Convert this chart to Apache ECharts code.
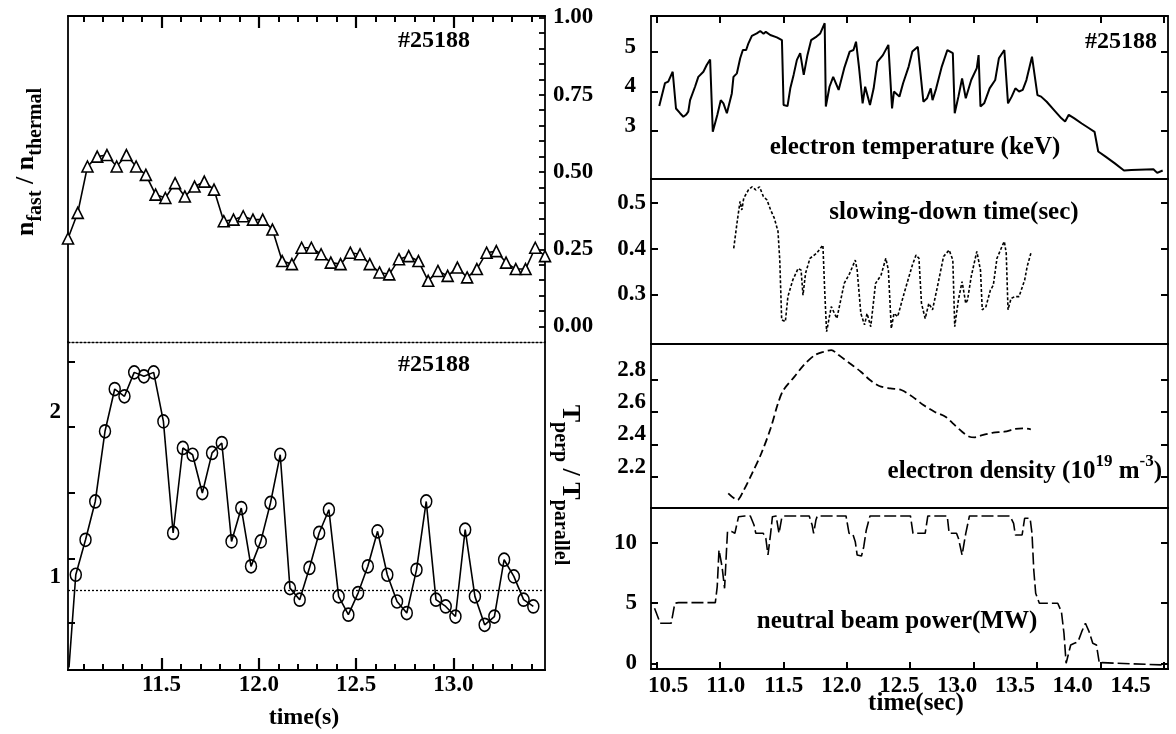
<!DOCTYPE html>
<html>
<head>
<meta charset="utf-8">
<script src="https://cdn.jsdelivr.net/npm/echarts@6/dist/echarts.min.js"></script>
<style>
  html, body { margin: 0; padding: 0; background: #fff; }
  #chart { width: 1176px; height: 734px; }
</style>
</head>
<body>
<div id="chart"></div>
<script>
// ---- left panel: n_fast/n_thermal (triangles) and T_perp/T_parallel (circles)
const ratioTime = [11.02, 11.07, 11.12, 11.17, 11.22, 11.27, 11.32, 11.37, 11.42, 11.47,
  11.52, 11.57, 11.62, 11.67, 11.72, 11.77, 11.82, 11.87, 11.92, 11.97,
  12.02, 12.07, 12.12, 12.17, 12.22, 12.27, 12.32, 12.37, 12.42, 12.47,
  12.52, 12.57, 12.62, 12.67, 12.72, 12.77, 12.82, 12.87, 12.92, 12.97,
  13.02, 13.07, 13.12, 13.17, 13.22, 13.27, 13.32, 13.37, 13.42, 13.47];
const ratioValue = [0.285, 0.368, 0.518, 0.550, 0.555, 0.518, 0.555, 0.518, 0.491, 0.427,
  0.416, 0.464, 0.421, 0.453, 0.469, 0.443, 0.341, 0.346, 0.357, 0.346,
  0.346, 0.314, 0.212, 0.202, 0.255, 0.255, 0.234, 0.207, 0.202, 0.239,
  0.234, 0.202, 0.175, 0.169, 0.218, 0.228, 0.212, 0.148, 0.180, 0.164,
  0.191, 0.159, 0.186, 0.239, 0.244, 0.207, 0.186, 0.186, 0.255, 0.228];

const anisoTime = [11.06, 11.11, 11.16, 11.21, 11.26, 11.31, 11.36, 11.41, 11.46, 11.51,
  11.56, 11.61, 11.66, 11.71, 11.76, 11.81, 11.86, 11.91, 11.96, 12.01,
  12.06, 12.11, 12.16, 12.21, 12.26, 12.31, 12.36, 12.41, 12.46, 12.51,
  12.56, 12.61, 12.66, 12.71, 12.76, 12.81, 12.86, 12.91, 12.96, 13.01,
  13.06, 13.11, 13.16, 13.21, 13.26, 13.31, 13.36, 13.41];
const anisoValue = [1.012, 1.224, 1.456, 1.881, 2.137, 2.093, 2.238, 2.214, 2.238, 1.941,
  1.265, 1.780, 1.739, 1.507, 1.750, 1.810, 1.214, 1.416, 1.063, 1.214,
  1.447, 1.739, 0.931, 0.861, 1.053, 1.265, 1.406, 0.881, 0.770, 0.901,
  1.063, 1.275, 1.012, 0.850, 0.780, 1.042, 1.456, 0.861, 0.820, 0.759,
  1.285, 0.881, 0.709, 0.759, 1.103, 1.002, 0.861, 0.820];
const anisoStart = [11.025, 0.45];
const anisoRef = 0.924;

const leftMajor = [11.5, 12.0, 12.5, 13.0];
const leftMinor = [11.1, 11.2, 11.3, 11.4, 11.6, 11.7, 11.8, 11.9, 12.1, 12.2,
  12.3, 12.4, 12.6, 12.7, 12.8, 12.9, 13.1, 13.2, 13.3, 13.4];
const ratioLabels = [0, 0.25, 0.5, 0.75, 1.0];
const ratioTicks = [0, 0.05, 0.1, 0.15, 0.2, 0.25, 0.3, 0.35, 0.4, 0.45, 0.5,
  0.55, 0.6, 0.65, 0.7, 0.75, 0.8, 0.85, 0.9, 0.95, 1.0];
const anisoLabels = [1, 2];
const anisoTicks = [0.72, 1.11, 1.51, 1.91, 2.3];

// ---- right panel: [time, value]
const teData = [[10.522, 3.63], [10.567, 4.21], [10.593, 4.25], [10.628, 4.50], [10.654, 3.57],
  [10.686, 3.45], [10.712, 3.36], [10.733, 3.41], [10.751, 3.49], [10.765, 3.78],
  [10.804, 4.12], [10.830, 4.37], [10.870, 4.50], [10.896, 4.67], [10.923, 4.81],
  [10.944, 2.98], [10.980, 3.41], [11.007, 3.78], [11.028, 3.70], [11.055, 3.45],
  [11.094, 3.95], [11.107, 4.37], [11.134, 4.46], [11.160, 4.84], [11.181, 5.05],
  [11.207, 5.05], [11.225, 5.22], [11.252, 5.41], [11.291, 5.47], [11.318, 5.53],
  [11.344, 5.46], [11.362, 5.51], [11.397, 5.43], [11.449, 5.37], [11.489, 5.30],
  [11.502, 3.66], [11.533, 3.63], [11.555, 4.08], [11.581, 4.42], [11.607, 4.80],
  [11.633, 4.97], [11.646, 4.98], [11.661, 4.42], [11.690, 4.92], [11.719, 5.30],
  [11.762, 5.39], [11.791, 5.47], [11.826, 5.73], [11.835, 3.62], [11.864, 4.12],
  [11.893, 4.37], [11.936, 4.04], [11.980, 4.59], [12.023, 5.01], [12.053, 5.05],
  [12.073, 5.26], [12.096, 4.63], [12.125, 3.70], [12.145, 4.12], [12.183, 3.66],
  [12.212, 4.08], [12.241, 4.75], [12.285, 4.92], [12.328, 5.18], [12.357, 3.57],
  [12.372, 4.00], [12.415, 3.87], [12.444, 4.21], [12.488, 4.63], [12.517, 5.01],
  [12.560, 5.13], [12.604, 3.74], [12.633, 3.83], [12.662, 4.08], [12.676, 3.78],
  [12.705, 4.08], [12.749, 4.63], [12.793, 5.05], [12.836, 4.97], [12.851, 3.45],
  [12.880, 3.87], [12.909, 4.33], [12.938, 3.83], [12.981, 4.29], [13.025, 4.59],
  [13.039, 4.92], [13.054, 3.62], [13.083, 3.70], [13.126, 4.08], [13.170, 4.29],
  [13.199, 4.84], [13.242, 5.05], [13.271, 3.70], [13.300, 3.87], [13.329, 4.08],
  [13.358, 4.00], [13.387, 4.04], [13.416, 4.29], [13.460, 4.88], [13.503, 3.91],
  [13.532, 3.87], [13.576, 3.74], [13.634, 3.53], [13.692, 3.32], [13.721, 3.24],
  [13.750, 3.41], [13.794, 3.32], [13.852, 3.19], [13.910, 3.07], [13.953, 2.98],
  [13.982, 2.48], [14.040, 2.35], [14.113, 2.18], [14.185, 2.00], [14.243, 2.01],
  [14.417, 2.03], [14.447, 1.94], [14.490, 2.00]];

const tauData = [[11.109, 0.401], [11.138, 0.463], [11.159, 0.504], [11.173, 0.485], [11.188, 0.511],
  [11.225, 0.529], [11.254, 0.536], [11.283, 0.529], [11.312, 0.536], [11.342, 0.515],
  [11.371, 0.507], [11.400, 0.485], [11.429, 0.467], [11.458, 0.438], [11.472, 0.375],
  [11.487, 0.244], [11.516, 0.240], [11.536, 0.295], [11.574, 0.331], [11.617, 0.357],
  [11.640, 0.353], [11.655, 0.298], [11.675, 0.346], [11.710, 0.379], [11.762, 0.390],
  [11.812, 0.408], [11.826, 0.309], [11.841, 0.218], [11.878, 0.273], [11.922, 0.247],
  [11.980, 0.324], [12.023, 0.346], [12.067, 0.375], [12.082, 0.353], [12.111, 0.258],
  [12.140, 0.233], [12.160, 0.258], [12.189, 0.229], [12.227, 0.324], [12.270, 0.342],
  [12.308, 0.379], [12.328, 0.353], [12.351, 0.225], [12.372, 0.258], [12.401, 0.251],
  [12.459, 0.309], [12.517, 0.364], [12.546, 0.386], [12.569, 0.379], [12.589, 0.280],
  [12.618, 0.247], [12.647, 0.280], [12.676, 0.266], [12.720, 0.324], [12.763, 0.383],
  [12.807, 0.397], [12.836, 0.375], [12.851, 0.229], [12.880, 0.288], [12.909, 0.328],
  [12.938, 0.280], [12.952, 0.288], [12.981, 0.339], [13.025, 0.394], [13.054, 0.353],
  [13.068, 0.266], [13.097, 0.273], [13.132, 0.309], [13.155, 0.320], [13.184, 0.379],
  [13.228, 0.408], [13.242, 0.416], [13.257, 0.390], [13.271, 0.266], [13.295, 0.291],
  [13.324, 0.295], [13.358, 0.295], [13.402, 0.331], [13.422, 0.361], [13.451, 0.390]];

const neData = [[11.066, 2.096], [11.138, 2.055], [11.182, 2.106], [11.254, 2.220], [11.327, 2.345],
  [11.400, 2.500], [11.458, 2.655], [11.501, 2.738], [11.588, 2.821], [11.661, 2.893],
  [11.748, 2.955], [11.820, 2.976], [11.878, 2.986], [11.936, 2.955], [12.023, 2.904],
  [12.111, 2.852], [12.183, 2.800], [12.256, 2.763], [12.343, 2.748], [12.430, 2.738],
  [12.517, 2.697], [12.604, 2.645], [12.691, 2.603], [12.778, 2.572], [12.836, 2.531],
  [12.909, 2.479], [12.967, 2.448], [13.010, 2.444], [13.068, 2.458], [13.155, 2.473],
  [13.242, 2.479], [13.329, 2.496], [13.387, 2.500], [13.451, 2.494]];

const pnbData = [[10.485, 4.58], [10.515, 3.75], [10.529, 3.34], [10.616, 3.34], [10.645, 5.00],
  [10.674, 5.05], [10.964, 5.05], [10.979, 6.38], [10.993, 9.42], [11.017, 8.03],
  [11.037, 6.24], [11.051, 9.15], [11.060, 10.94], [11.095, 10.94], [11.118, 10.80],
  [11.147, 12.18], [11.196, 12.24], [11.240, 12.24], [11.269, 11.49], [11.283, 10.80],
  [11.342, 10.80], [11.362, 10.39], [11.379, 9.00], [11.400, 10.80], [11.414, 12.18],
  [11.443, 12.24], [11.466, 10.80], [11.487, 12.05], [11.501, 12.24], [11.704, 12.24],
  [11.727, 11.49], [11.739, 10.80], [11.757, 11.91], [11.768, 12.24], [11.994, 12.24],
  [12.018, 10.80], [12.047, 10.75], [12.067, 10.11], [12.082, 9.00], [12.116, 8.92],
  [12.134, 9.69], [12.154, 11.08], [12.183, 12.24], [12.502, 12.24], [12.522, 10.80],
  [12.618, 10.80], [12.639, 12.24], [12.792, 12.24], [12.807, 10.80], [12.865, 10.80],
  [12.880, 10.39], [12.909, 9.00], [12.938, 10.80], [12.967, 12.24], [13.286, 12.24],
  [13.315, 11.63], [13.329, 10.66], [13.382, 10.66], [13.402, 12.05], [13.445, 12.05],
  [13.460, 10.80], [13.474, 7.76], [13.489, 5.83], [13.518, 5.00], [13.663, 5.00],
  [13.692, 4.30], [13.712, 2.51], [13.729, 0.02], [13.765, 1.54], [13.794, 1.68],
  [13.823, 1.81], [13.852, 2.64], [13.881, 3.34], [13.910, 2.64], [13.939, 1.68],
  [13.968, 1.54], [13.991, 0.02], [14.011, 0.07], [14.490, -0.12]];

const rightMajor = [10.5, 11.0, 11.5, 12.0, 12.5, 13.0, 13.5, 14.0, 14.5];
const teLabels = [3, 4, 5];
const tauLabels = [0.3, 0.4, 0.5];
const neLabels = [2.2, 2.4, 2.6, 2.8];
const pnbLabels = [0, 5, 10];

const FONT = '"Liberation Serif", "Times New Roman", serif';
const BLACK = '#000';

function zip(xs, ys) {
  return xs.map(function (x, i) { return [x, ys[i]]; });
}

function frame(width, dash) {
  return { show: true, onZero: false, lineStyle: { color: BLACK, width: width || 1.8, type: dash || 'solid' } };
}
const noLine = { show: false, onZero: false };

function lineOnly(extra) {
  return Object.assign({
    type: 'value',
    axisLine: frame(),
    axisTick: { show: false },
    axisLabel: { show: false },
    splitLine: { show: false }
  }, extra);
}

function ticks(values, len, w) {
  return { show: true, inside: true, length: len, customValues: values, lineStyle: { color: BLACK, width: w || 2 } };
}

// lift: how far the reference prints the label above its tick
function labels(values, margin, fmt, lift) {
  const l = {
    show: true, customValues: values, margin: margin,
    fontFamily: FONT, fontWeight: 'bold', fontSize: 23, color: BLACK,
    formatter: fmt
  };
  if (lift) { l.verticalAlign = 'bottom'; l.lineHeight = lift * 2; }
  return l;
}

const fix1 = function (v) { return v.toFixed(1); };
const fix2 = function (v) { return v.toFixed(2); };
const plain = function (v) { return String(v); };

const lx = { min: 11.02, max: 13.47 };
const rx = { min: 10.457, max: 14.532 };

const gRatio = { left: 68, top: 16, width: 477, height: 326 };
const gAniso = { left: 68, top: 342, width: 477, height: 328 };
const gTe = { left: 651, top: 16, width: 517, height: 163 };
const gTau = { left: 651, top: 179, width: 517, height: 165 };
const gNe = { left: 651, top: 344, width: 517, height: 164 };
const gPnb = { left: 651, top: 508, width: 517, height: 161 };

const yRatio = { min: -0.05, max: 1.005 };
const yAniso = { min: 0.435, max: 2.422 };
const yTe = { min: 1.785, max: 5.911 };
const yPnb = { min: -0.456, max: 12.9 };

function hiddenY(gridIndex) {
  return { type: 'value', gridIndex: gridIndex, show: false, min: 0, max: 1 };
}

// time-axis tick marks as short vertical segments hanging from a frame edge
function tickSegs(values, y, grid, px, up) {
  const len = px * (y.max - y.min) / grid.height;
  const from = up ? y.min : y.max;
  const to = up ? from + len : from - len;
  return values.map(function (v) {
    return [{ coord: [v, from] }, { coord: [v, to] }];
  });
}
function tickMarks(segs) {
  return {
    silent: true, symbol: ['none', 'none'], label: { show: false },
    lineStyle: { color: BLACK, width: 2, type: 'solid' },
    data: segs
  };
}

let chart = echarts.init(document.getElementById('chart'));

chart.setOption({
  animation: false,
  backgroundColor: '#fff',
  grid: [gRatio, gAniso, gTe, gTau, gNe, gPnb, gRatio, gRatio, gAniso, gAniso, gTe, gPnb],
  xAxis: [
    // 0: dotted divider under the ratio plot
    lineOnly(Object.assign({ gridIndex: 0, position: 'bottom', axisLine: frame(1.3, [2, 2]) }, lx)),
    lineOnly(Object.assign({ gridIndex: 1, position: 'bottom' }, lx)),
    lineOnly(Object.assign({ gridIndex: 2, position: 'bottom' }, rx)),
    lineOnly(Object.assign({ gridIndex: 3, position: 'bottom' }, rx)),
    lineOnly(Object.assign({ gridIndex: 4, position: 'bottom' }, rx)),
    lineOnly(Object.assign({ gridIndex: 5, position: 'bottom' }, rx)),
    // 6: labels in the reference sit on a slightly tighter spacing than the ticks
    lineOnly({ gridIndex: 5, position: 'bottom', min: 10.3527, max: 14.824, axisLine: noLine,
      axisLabel: labels(rightMajor, 6, fix1) }),
    // 7-12: frame edges and time labels
    lineOnly(Object.assign({ gridIndex: 6, position: 'top', axisTick: ticks(leftMajor, 12, 2.2) }, lx)),
    lineOnly(Object.assign({ gridIndex: 7, position: 'top', axisLine: noLine, axisTick: ticks(leftMinor, 6, 1.8) }, lx)),
    lineOnly(Object.assign({ gridIndex: 8, position: 'bottom', axisTick: ticks(leftMajor, 12, 2.2),
      axisLabel: labels(leftMajor, 4, fix1) }, lx)),
    lineOnly(Object.assign({ gridIndex: 9, position: 'bottom', axisLine: noLine, axisTick: ticks(leftMinor, 6, 1.8) }, lx)),
    lineOnly(Object.assign({ gridIndex: 10, position: 'top', axisTick: ticks(rightMajor, 7) }, rx)),
    lineOnly(Object.assign({ gridIndex: 11, position: 'bottom', axisTick: ticks(rightMajor, 7) }, rx))
  ],
  yAxis: [
    lineOnly(Object.assign({ gridIndex: 0, position: 'right',
      axisTick: ticks(ratioTicks, 6, 1.8), axisLabel: labels(ratioLabels, 8, fix2) }, yRatio)),
    lineOnly(Object.assign({ gridIndex: 0, position: 'left' }, yRatio)),
    lineOnly(Object.assign({ gridIndex: 1, position: 'left',
      axisTick: ticks(anisoTicks, 7), axisLabel: labels(anisoLabels, 7, plain) }, yAniso)),
    lineOnly(Object.assign({ gridIndex: 1, position: 'right' }, yAniso)),

    lineOnly(Object.assign({ gridIndex: 2, position: 'left',
      axisTick: ticks(teLabels, 7), axisLabel: labels(teLabels, 15, plain, 5) }, yTe)),
    lineOnly(Object.assign({ gridIndex: 2, position: 'right', axisTick: ticks(teLabels, 7) }, yTe)),
    lineOnly({ gridIndex: 3, position: 'left', min: 0.191, max: 0.553,
      axisTick: ticks(tauLabels, 7), axisLabel: labels(tauLabels, 5, fix1) }),
    lineOnly({ gridIndex: 3, position: 'right', min: 0.191, max: 0.553, axisTick: ticks(tauLabels, 7) }),
    lineOnly({ gridIndex: 4, position: 'left', min: 2.005, max: 3.024,
      axisTick: ticks(neLabels, 7), axisLabel: labels(neLabels, 5, fix1, 10) }),
    lineOnly({ gridIndex: 4, position: 'right', min: 2.005, max: 3.024, axisTick: ticks(neLabels, 7) }),
    lineOnly(Object.assign({ gridIndex: 5, position: 'left',
      axisTick: ticks(pnbLabels, 7), axisLabel: labels(pnbLabels, 14, plain) }, yPnb)),
    lineOnly(Object.assign({ gridIndex: 5, position: 'right', axisTick: ticks(pnbLabels, 7) }, yPnb)),

    hiddenY(6), hiddenY(7), hiddenY(8), hiddenY(9), hiddenY(10), hiddenY(11)
  ],
  series: [
    {
      type: 'line', xAxisIndex: 0, yAxisIndex: 0, clip: false, silent: true,
      data: zip(ratioTime, ratioValue),
      symbol: 'triangle', symbolSize: [11, 11],
      lineStyle: { color: BLACK, width: 1.6 },
      itemStyle: { color: '#fff', borderColor: BLACK, borderWidth: 1.6 },
      markLine: tickMarks(tickSegs(leftMajor, yRatio, gRatio, 12, false)
        .concat(tickSegs(leftMinor, yRatio, gRatio, 6, false)))
    },
    {
      type: 'line', xAxisIndex: 1, yAxisIndex: 2, silent: true,
      data: [{ value: anisoStart, symbol: 'none' }].concat(zip(anisoTime, anisoValue)),
      symbol: 'circle', symbolSize: [11, 13],
      lineStyle: { color: BLACK, width: 1.6 },
      itemStyle: { color: 'rgba(255,255,255,0)', borderColor: BLACK, borderWidth: 1.6 },
      markLine: tickMarks(tickSegs(leftMajor, yAniso, gAniso, 12, true)
        .concat(tickSegs(leftMinor, yAniso, gAniso, 6, true))
        .concat([{ yAxis: anisoRef, lineStyle: { color: BLACK, width: 1.3, type: [2, 2] } }]))
    },
    {
      type: 'line', xAxisIndex: 2, yAxisIndex: 4, silent: true, symbol: 'none',
      data: teData, lineStyle: { color: BLACK, width: 2 },
      markLine: tickMarks(tickSegs(rightMajor, yTe, gTe, 7, false))
    },
    {
      type: 'line', xAxisIndex: 3, yAxisIndex: 6, silent: true, symbol: 'none',
      data: tauData, lineStyle: { color: BLACK, width: 1.6, type: [3, 2] }
    },
    {
      type: 'line', xAxisIndex: 4, yAxisIndex: 8, silent: true, symbol: 'none', smooth: 0.3,
      data: neData, lineStyle: { color: BLACK, width: 1.8, type: [8, 4] }
    },
    {
      type: 'line', xAxisIndex: 5, yAxisIndex: 10, silent: true, symbol: 'none',
      data: pnbData, lineStyle: { color: BLACK, width: 1.6, type: [12, 4] },
      markLine: tickMarks(tickSegs(rightMajor, yPnb, gPnb, 7, true))
    }
  ],
  graphic: { elements: [
    { type: 'text', x: 434, y: 41, z: 50, style: { text: '#25188', font: 'bold 24px ' + FONT, fill: BLACK, align: 'center', verticalAlign: 'middle' } },
    { type: 'text', x: 434, y: 365, z: 50, style: { text: '#25188', font: 'bold 24px ' + FONT, fill: BLACK, align: 'center', verticalAlign: 'middle' } },
    { type: 'text', x: 1121, y: 42, z: 50, style: { text: '#25188', font: 'bold 24px ' + FONT, fill: BLACK, align: 'center', verticalAlign: 'middle' } },
    { type: 'text', x: 915, y: 148, z: 50, style: { text: 'electron temperature (keV)', font: 'bold 25px ' + FONT, fill: BLACK, align: 'center', verticalAlign: 'middle' } },
    { type: 'text', x: 954, y: 213, z: 50, style: { text: 'slowing-down time(sec)', font: 'bold 25px ' + FONT, fill: BLACK, align: 'center', verticalAlign: 'middle' } },
    { type: 'text', x: 897, y: 622, z: 50, style: { text: 'neutral beam power(MW)', font: 'bold 25px ' + FONT, fill: BLACK, align: 'center', verticalAlign: 'middle' } },
    { type: 'text', x: 304, y: 718, z: 50, style: { text: 'time(s)', font: 'bold 24px ' + FONT, fill: BLACK, align: 'center', verticalAlign: 'middle' } },
    { type: 'text', x: 916, y: 704, z: 50, style: { text: 'time(sec)', font: 'bold 25px ' + FONT, fill: BLACK, align: 'center', verticalAlign: 'middle' } },
    {
      type: 'text', x: 1162, y: 472, z: 50,
      style: {
        text: '{n|electron density (10}{p|19}{n| m}{p|-3}{n|)}',
        align: 'right', verticalAlign: 'middle',
        rich: {
          n: { fontFamily: FONT, fontWeight: 'bold', fontSize: 25, lineHeight: 38, fill: BLACK },
          p: { fontFamily: FONT, fontWeight: 'bold', fontSize: 17, lineHeight: 17, verticalAlign: 'top', fill: BLACK }
        }
      }
    },
    {
      type: 'text', x: 26, y: 162, rotation: Math.PI / 2, z: 50,
      style: {
        text: '{m|n}{s|fast}{m| / n}{s|thermal}',
        align: 'center', verticalAlign: 'middle',
        rich: {
          m: { fontFamily: FONT, fontWeight: 'bold', fontSize: 26, lineHeight: 40, fill: BLACK },
          s: { fontFamily: FONT, fontWeight: 'bold', fontSize: 20, lineHeight: 20, verticalAlign: 'bottom', fill: BLACK }
        }
      }
    },
    {
      type: 'text', x: 570, y: 485, rotation: -Math.PI / 2, z: 50,
      style: {
        text: '{m|T}{s|perp}{m| / T}{s|parallel}',
        align: 'center', verticalAlign: 'middle',
        rich: {
          m: { fontFamily: FONT, fontWeight: 'bold', fontSize: 26, lineHeight: 40, fill: BLACK },
          s: { fontFamily: FONT, fontWeight: 'bold', fontSize: 20, lineHeight: 20, verticalAlign: 'bottom', fill: BLACK }
        }
      }
    }
  ] }
});
</script>
</body>
</html>
